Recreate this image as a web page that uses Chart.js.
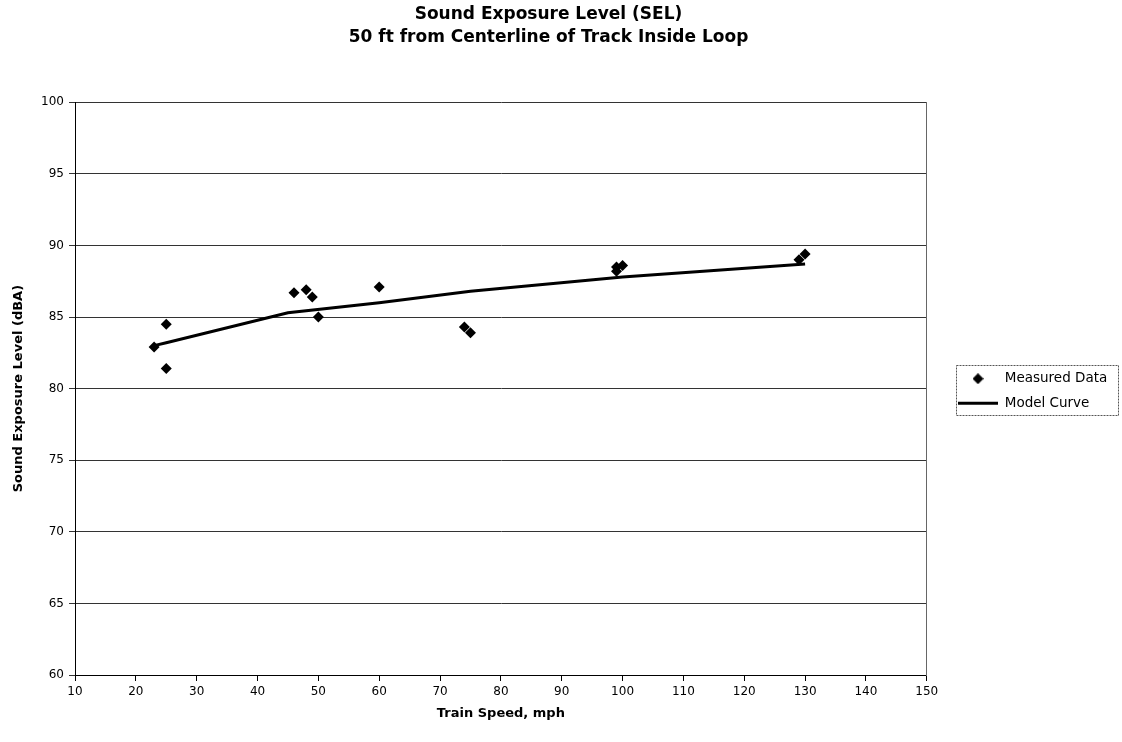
<!DOCTYPE html>
<html>
<head>
<meta charset="utf-8">
<title>Sound Exposure Level (SEL)</title>
<script src="https://cdn.jsdelivr.net/npm/chart.js@4/dist/chart.umd.min.js"></script>
<style>
    html, body { margin: 0; padding: 0; background: #fff; }
</style>
</head>
<body>
<canvas id="myChart" width="1122" height="742"></canvas>
<script>
'use strict';

// measured pass-bys
var measuredSpeed = [23, 25, 25, 46, 48, 49, 50, 60, 74, 75, 99, 99, 100, 129, 130];
var measuredSel = [82.9, 84.5, 81.4, 86.7, 86.9, 86.4, 85.0, 87.1, 84.3, 83.9, 88.2, 88.5, 88.6, 89.0, 89.4];

// model curve
var modelSpeed = [23, 25, 45, 60, 75, 100, 130];
var modelSel = [83.0, 83.2, 85.3, 86.0, 86.8, 87.8, 88.7];

var titleLines = ['Sound Exposure Level (SEL)', '50 ft from Centerline of Track Inside Loop'];
var xTitle = 'Train Speed, mph';
var yTitle = 'Sound Exposure Level (dBA)';
var seriesNames = ['Measured Data', 'Model Curve'];

var fontName = "'DejaVu Sans', sans-serif";

function toPoints(xs, ys) {
    var pts = [];
    for (var i = 0; i < xs.length; i++) {
        pts.push({ x: xs[i], y: ys[i] });
    }
    return pts;
}

function diamondIcon(size) {
    var c = document.createElement('canvas');
    c.width = size;
    c.height = size;
    var g = c.getContext('2d');
    g.fillStyle = '#000';
    g.beginPath();
    g.moveTo(size / 2, 0);
    g.lineTo(size, size / 2);
    g.lineTo(size / 2, size);
    g.lineTo(0, size / 2);
    g.closePath();
    g.fill();
    return c;
}
var diamond = diamondIcon(11);

// move the legend items over and put a box round them
var legendBox = {
    id: 'legendBox',
    afterLayout: function (chart) {
        var lg = chart.legend;
        var shift = 958 - (lg.left + lg.options.labels.padding);
        lg.left += shift;
        lg.right += shift;
        lg.top += 20;
        lg.bottom += 20;
    },
    afterDraw: function (chart) {
        var hb = chart.legend.legendHitBoxes;
        if (!hb || !hb.length) return;
        var ctx = chart.ctx;
        var last = hb[hb.length - 1];
        ctx.save();
        ctx.strokeStyle = '#555';
        ctx.lineWidth = 1;
        ctx.setLineDash([2, 1]);
        ctx.strokeRect(hb[0].left - 1.5, hb[0].top - 6.5, 1120 - hb[0].left, last.top + last.height - hb[0].top + 12);
        ctx.restore();
    }
};

var ctx = document.getElementById('myChart').getContext('2d');
var chart = new Chart(ctx, {
    type: 'scatter',
    data: {
        datasets: [{
            label: seriesNames[0],
            data: toPoints(measuredSpeed, measuredSel),
            pointStyle: 'rectRot',
            pointRadius: 5.5,
            pointBorderWidth: 0,
            backgroundColor: '#000',
            borderColor: '#000'
        }, {
            label: seriesNames[1],
            data: toPoints(modelSpeed, modelSel),
            showLine: true,
            pointRadius: 0,
            borderWidth: 3,
            borderColor: '#000',
            backgroundColor: '#000',
            tension: 0
        }]
    },
    options: {
        responsive: false,
        animation: false,
        devicePixelRatio: 1,
        layout: { padding: { left: 0, right: 25, top: 0, bottom: 0 } },
        plugins: {
            title: {
                display: true,
                text: titleLines,
                color: '#000',
                font: { family: fontName, size: 17, weight: 'bold', lineHeight: 1.3 },
                padding: { top: 4, bottom: 54 }
            },
            legend: {
                position: 'right',
                labels: {
                    color: '#000',
                    font: { family: fontName, size: 13.5 },
                    usePointStyle: true,
                    pointStyleWidth: 40,
                    padding: 11,
                    generateLabels: function (chart) {
                        var items = Chart.defaults.plugins.legend.labels.generateLabels(chart);
                        items[0].pointStyle = diamond;
                        items[1].pointStyle = 'line';
                        items[1].lineWidth = 3;
                        items[1].strokeStyle = '#000';
                        return items;
                    }
                }
            },
            tooltip: { enabled: false }
        },
        scales: {
            x: {
                type: 'linear',
                min: 10,
                max: 150,
                ticks: { stepSize: 10, color: '#000', padding: 4, font: { family: fontName, size: 12 } },
                grid: { drawOnChartArea: false, drawTicks: true, tickLength: 6, color: '#000' },
                border: { display: true, color: '#000', width: 1 },
                title: {
                    display: true,
                    text: xTitle,
                    color: '#000',
                    font: { family: fontName, size: 13, weight: 'bold' },
                    padding: { top: 6, bottom: 21 }
                },
                afterFit: function (scale) { scale.height = 67; }
            },
            y: {
                min: 60,
                max: 100,
                ticks: { stepSize: 5, color: '#000', padding: 5, font: { family: fontName, size: 12 } },
                grid: { color: '#333', tickLength: 6, lineWidth: 1 },
                border: { display: true, color: '#000', width: 1 },
                title: {
                    display: true,
                    text: yTitle,
                    color: '#000',
                    font: { family: fontName, size: 13, weight: 'bold' },
                    padding: { top: 11, bottom: 0 }
                },
                afterFit: function (scale) { scale.width = 75; }
            },
            yRight: {
                position: 'right',
                min: 60,
                max: 100,
                ticks: { display: false },
                grid: { display: false },
                border: { display: true, color: '#666', width: 1, dash: [2, 1] },
                afterFit: function (scale) { scale.width = 0; }
            }
        }
    },
    plugins: [legendBox]
});
</script>
</body>
</html>
